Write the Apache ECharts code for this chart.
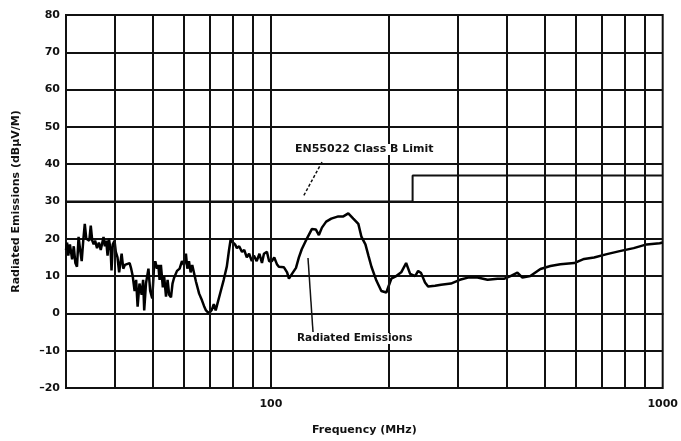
<!DOCTYPE html>
<html>
<head>
<meta charset="utf-8">
<script src="https://cdn.jsdelivr.net/npm/echarts@6/dist/echarts.min.js"></script>
<style>
html,body{margin:0;padding:0;background:#fff;}
#chart{width:681px;height:441px;}
</style>
</head>
<body>
<div id="chart"></div>
<script>
// Frequency (MHz) of the measured radiated emissions trace
const emissionFreq = [
  30.0,30.2,30.4,30.7,31.1,31.4,31.7,32.0,32.3,32.6,32.9,33.2,33.5,33.8,34.1,34.4,34.7,35.0,35.3,35.6,
  36.0,36.4,36.8,37.0,37.4,37.7,38.0,38.3,38.6,39.0,39.2,39.5,39.9,40.2,40.6,41.0,41.6,42.0,42.4,42.9,
  43.6,44.0,44.4,44.9,45.3,45.7,46.2,46.8,47.2,47.5,48.0,48.7,49.2,49.8,50.3,50.7,51.2,51.6,52.0,52.4,
  53.0,53.4,54.0,54.5,55.0,55.6,56.1,56.6,57.6,58.5,59.3,60.0,60.7,61.2,61.8,62.4,63.0,64.4,65.6,66.7,
  67.5,68.3,69.5,70.7,71.5,72.3,73.0,74.5,75.8,77.2,78.2,79.0,80.0,81.0,81.9,83.0,84.4,85.5,86.8,88.0,
  89.4,90.5,92.0,93.5,94.9,96.0,97.7,99.0,100.6,102,103.6,104.8,107.9,110,111.2,113.2,115.9,117.9,119.9,122.8,
  124.9,127.2,130.2,132.6,135.0,138.4,142.6,148.6,153.1,157.6,162.3,167.2,170.3,174.3,177.4,180.6,185.9,191.4,197.1,202.9,
  208.9,215.1,221.4,226.7,233.5,237.6,241.8,247.4,251.9,262.4,271.8,288.1,303.5,318.6,336.8,357.3,378.8,394.5,408.9,425.8,
  438.6,459.4,487.5,516.9,548.1,594.5,630.1,668.1,720.5,776.7,843.4,910,982.7,1000
];
// Radiated emissions level (dBµV/m)
const emissionLevel = [
  17,19,15.5,18.5,14.5,18,13.5,12.5,20.5,17,14,19.5,24,20,20.5,19.5,23.5,19.5,18.5,19.5,
  17.5,19,17,16.5,20.5,18,19.5,15.5,20,17,11.5,18.5,19.5,16.5,15,11,16,12,13,13.5,
  13.5,12,10,6,9,1.8,8,5,9,0.8,8,12,6,4,12,14,12,13,9,13,
  7,10,4.5,9,5,4.3,8,9.5,11.4,12,14,13,16,12,14,11,13,8.5,5.3,3.5,
  2,0.8,0,1,2.5,0.8,2.5,6,9,12.6,17,20,19,18.5,17.5,18,16.5,17,15,16,
  14,15.5,14,16,13.5,16,16.5,14,14,15,13.2,12.5,12.4,11,9.3,10.6,12.2,15,17.2,19.5,
  21,22.6,22.5,21,23,24.6,25.4,26,26,26.8,25.4,24,20.5,18.5,15.5,12.5,8.8,6,5.6,9.3,
  10,11,13.5,10.6,10,11.4,10.8,8.3,7.2,7.4,7.7,8,9,9.6,9.6,9,9.3,9.3,10,10.9,
  9.6,10,11.9,12.7,13.2,13.5,14.6,15,15.9,16.7,17.5,18.5,18.8,19
];
// EN55022 Class B limit (step)
const limitFreq = [30, 230, 230, 1000];
const limitLevel = [30, 30, 37, 37];
// Vertical grid lines (log decades)
const freqGridLines = [40,50,60,70,80,90,100,200,300,400,500,600,700,800,900];
// Axis label settings
const xLabelValues = [100, 1000];
const yMin = -20, yMax = 80, yStep = 10;

const FONT = 'DejaVu Sans';
const chart = echarts.init(document.getElementById('chart'));
chart.setOption({
  backgroundColor: '#fff',
  animation: false,
  grid: { left: 66, right: 12, top: 15, bottom: 47, show: true, borderColor: '#111', borderWidth: 2, backgroundColor: 'transparent' },
  xAxis: {
    type: 'log', logBase: 10, min: 30, max: 1000,
    name: 'Frequency (MHz)', nameLocation: 'middle', nameGap: 37,
    nameTextStyle: { fontFamily: FONT, fontWeight: 'bold', fontSize: 11, color: '#111' },
    axisLine: { show: true, lineStyle: { color: '#111', width: 2 } },
    axisTick: { show: false },
    splitLine: { show: false },
    axisLabel: {
      margin: 11, fontFamily: FONT, fontWeight: 'bold', fontSize: 11, color: '#111',
      formatter: v => (xLabelValues.indexOf(Math.round(v)) >= 0 ? String(Math.round(v)) : '')
    }
  },
  yAxis: {
    type: 'value', min: yMin, max: yMax, interval: yStep,
    name: 'Radiated Emissions (dBµV/M)', nameLocation: 'middle', nameGap: 44,
    nameTextStyle: { fontFamily: FONT, fontWeight: 'bold', fontSize: 11, color: '#111' },
    axisLine: { show: true, lineStyle: { color: '#111', width: 2 } },
    axisTick: { show: false },
    splitLine: { show: true, lineStyle: { color: '#111', width: 2 } },
    axisLabel: {
      margin: 6, fontFamily: FONT, fontWeight: 'bold', fontSize: 11, color: '#111',
      formatter: v => String(v).replace('-', '–')
    }
  },
  series: [
    {
      type: 'line', name: 'grid', data: [], silent: true,
      markLine: {
        silent: true, symbol: 'none', animation: false,
        label: { show: false },
        lineStyle: { color: '#111', width: 2, type: 'solid' },
        data: freqGridLines.map(f => ({ xAxis: f }))
      }
    },
    {
      type: 'line', name: 'EN55022 Class B Limit',
      data: limitFreq.map((f, i) => [f, limitLevel[i]]),
      showSymbol: false, lineStyle: { color: '#111', width: 2 }, z: 3
    },
    {
      type: 'line', name: 'Radiated Emissions',
      data: emissionFreq.map((f, i) => [f, emissionLevel[i]]),
      showSymbol: false, lineStyle: { color: '#000', width: 2.5 }, z: 4
    }
  ],
  graphic: [
    { type: 'text', left: 294, top: 144, z: 10,
      style: { text: 'EN55022 Class B Limit', fontFamily: FONT, fontWeight: 'bold', fontSize: 11, fill: '#111', backgroundColor: '#fff', padding: [0,1] } },
    { type: 'line', z: 10, shape: { x1: 322, y1: 162, x2: 303, y2: 197 },
      style: { stroke: '#111', lineWidth: 1.5, lineDash: [3, 2] } },
    { type: 'line', z: 10, shape: { x1: 308, y1: 258, x2: 313, y2: 332 },
      style: { stroke: '#111', lineWidth: 1.5 } },
    { type: 'text', left: 296, top: 333, z: 10,
      style: { text: 'Radiated Emissions', fontFamily: FONT, fontWeight: 'bold', fontSize: 10.5, fill: '#111', backgroundColor: '#fff', padding: [0,1] } }
  ]
});
</script>
</body>
</html>
